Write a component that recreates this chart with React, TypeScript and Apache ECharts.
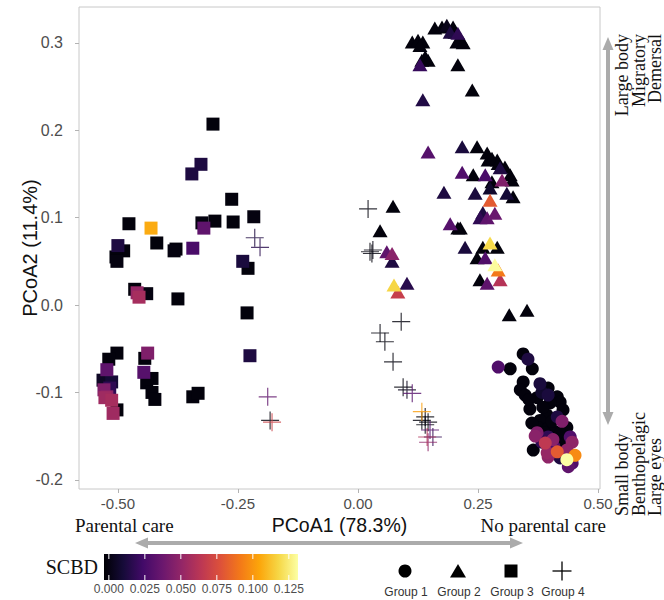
import React, { useEffect, useRef } from "react";
import * as echarts from "echarts";

const xTicks = [-0.5, -0.25, 0, 0.25, 0.5];
const yTicks = [-0.2, -0.1, 0.0, 0.1, 0.2, 0.3];
const scbdTicks = [0, 0.025, 0.05, 0.075, 0.1, 0.125];
const scbdMax = 0.128;
const groupNames = ["Group 1", "Group 2", "Group 3", "Group 4"];
const inferno = ["#000004", "#160b39", "#420a68", "#6a176e", "#932667", "#bc3754", "#dd513a", "#f37819", "#fca50a", "#f6d746", "#fcffa4"];

// [PCoA1, PCoA2, SCBD]
const group1 = [
  [0.344, -0.056, 0.002], [0.354, -0.062, 0.015], [0.292, -0.071, 0.03], [0.317, -0.073, 0.002],
  [0.363, -0.073, 0.002], [0.344, -0.088, 0.002], [0.379, -0.09, 0.014], [0.338, -0.097, 0.002],
  [0.348, -0.103, 0.002], [0.396, -0.095, 0.002], [0.383, -0.1, 0.01], [0.396, -0.103, 0.014],
  [0.415, -0.105, 0.002], [0.373, -0.106, 0.002], [0.421, -0.111, 0.002], [0.4, -0.112, 0.002],
  [0.427, -0.12, 0.002], [0.358, -0.119, 0.002], [0.394, -0.126, 0.002], [0.415, -0.128, 0.015],
  [0.379, -0.132, 0.002], [0.425, -0.133, 0.045], [0.435, -0.14, 0.002], [0.375, -0.14, 0.002],
  [0.396, -0.141, 0.002], [0.41, -0.145, 0.002], [0.373, -0.146, 0.045], [0.442, -0.151, 0.03],
  [0.369, -0.15, 0.048], [0.396, -0.151, 0.02], [0.406, -0.154, 0.048], [0.383, -0.157, 0.02],
  [0.446, -0.157, 0.05], [0.39, -0.158, 0.065], [0.365, -0.166, 0.002], [0.394, -0.169, 0.052],
  [0.415, -0.168, 0.08], [0.435, -0.166, 0.05], [0.452, -0.172, 0.095], [0.446, -0.181, 0.03],
  [0.421, -0.175, 0.015], [0.396, -0.174, 0.05], [0.438, -0.185, 0.035], [0.435, -0.177, 0.128],
  [0.385, -0.117, 0.002], [0.404, -0.133, 0.002], [0.362, -0.135, 0.002], [0.388, -0.146, 0.002],
  [0.421, -0.147, 0.002], [0.408, -0.162, 0.03], [0.429, -0.159, 0.002], [0.356, -0.108, 0.002],
];

const group2 = [
  [0.16, 0.317, 0.002], [0.175, 0.318, 0.002], [0.185, 0.32, 0.005], [0.198, 0.318, 0.002],
  [0.202, 0.312, 0.002], [0.192, 0.312, 0.015], [0.208, 0.311, 0.02], [0.213, 0.305, 0.002],
  [0.206, 0.301, 0.002], [0.219, 0.3, 0.002], [0.113, 0.301, 0.002], [0.125, 0.303, 0.002],
  [0.135, 0.301, 0.002], [0.129, 0.297, 0.002], [0.14, 0.284, 0.002], [0.133, 0.28, 0.002],
  [0.146, 0.28, 0.002], [0.129, 0.275, 0.022], [0.208, 0.275, 0.002], [0.238, 0.246, 0.002],
  [0.135, 0.235, 0.016], [0.146, 0.175, 0.032], [0.217, 0.181, 0.014], [0.248, 0.181, 0.002],
  [0.269, 0.174, 0.002], [0.271, 0.166, 0.002], [0.29, 0.166, 0.002], [0.217, 0.152, 0.03],
  [0.296, 0.157, 0.015], [0.317, 0.149, 0.002], [0.24, 0.149, 0.002], [0.265, 0.149, 0.028],
  [0.279, 0.168, 0.002], [0.292, 0.162, 0.002], [0.306, 0.158, 0.002], [0.3, 0.143, 0.045],
  [0.321, 0.143, 0.002], [0.279, 0.141, 0.002], [0.244, 0.128, 0.014], [0.275, 0.134, 0.01],
  [0.31, 0.128, 0.012], [0.323, 0.124, 0.002], [0.275, 0.12, 0.08], [0.26, 0.106, 0.015],
  [0.285, 0.105, 0.038], [0.254, 0.1, 0.02], [0.269, 0.1, 0.035], [0.213, 0.088, 0.002],
  [0.179, 0.129, 0.015], [0.073, 0.113, 0.002], [0.046, 0.085, 0.002], [0.192, 0.093, 0.032],
  [0.208, 0.088, 0.002], [0.223, 0.066, 0.014], [0.06, 0.061, 0.035], [0.071, 0.059, 0.048],
  [0.071, 0.05, 0.015], [0.075, 0.023, 0.115], [0.083, 0.015, 0.068], [0.102, 0.025, 0.018],
  [0.275, 0.071, 0.116], [0.29, 0.066, 0.002], [0.26, 0.066, 0.002], [0.248, 0.054, 0.002],
  [0.265, 0.054, 0.03], [0.285, 0.046, 0.127], [0.292, 0.04, 0.09], [0.296, 0.029, 0.062],
  [0.269, 0.025, 0.035], [0.254, 0.029, 0.002], [0.315, -0.011, 0.002], [0.352, -0.006, 0.002],
];

const group3 = [
  [-0.302, 0.207, 0.002], [-0.327, 0.161, 0.015], [-0.346, 0.15, 0.015], [-0.263, 0.121, 0.002],
  [-0.217, 0.101, 0.003], [-0.298, 0.096, 0.002], [-0.26, 0.095, 0.002], [-0.325, 0.094, 0.003],
  [-0.321, 0.088, 0.035], [-0.477, 0.093, 0.002], [-0.431, 0.088, 0.104], [-0.419, 0.071, 0.002],
  [-0.379, 0.064, 0.002], [-0.383, 0.062, 0.003], [-0.344, 0.065, 0.028], [-0.5, 0.068, 0.015],
  [-0.488, 0.062, 0.002], [-0.504, 0.055, 0.002], [-0.502, 0.05, 0.003], [-0.24, 0.05, 0.014],
  [-0.229, 0.042, 0.002], [-0.465, 0.018, 0.002], [-0.44, 0.013, 0.003], [-0.46, 0.014, 0.052],
  [-0.456, 0.009, 0.057], [-0.375, 0.007, 0.002], [-0.231, -0.009, 0.002], [-0.502, -0.055, 0.002],
  [-0.519, -0.062, 0.002], [-0.523, -0.074, 0.035], [-0.513, -0.088, 0.012], [-0.531, -0.086, 0.008],
  [-0.517, -0.095, 0.02], [-0.529, -0.097, 0.045], [-0.527, -0.106, 0.055], [-0.523, -0.105, 0.05],
  [-0.513, -0.109, 0.057], [-0.502, -0.12, 0.002], [-0.51, -0.124, 0.055], [-0.438, -0.055, 0.045],
  [-0.444, -0.061, 0.002], [-0.446, -0.077, 0.032], [-0.429, -0.084, 0.002], [-0.44, -0.089, 0.002],
  [-0.429, -0.1, 0.002], [-0.423, -0.108, 0.002], [-0.344, -0.105, 0.002], [-0.333, -0.101, 0.002],
  [-0.225, -0.058, 0.015],
];

const group4 = [
  [-0.215, 0.077, 0.015], [-0.204, 0.066, 0.018], [-0.188, -0.105, 0.035], [-0.183, -0.132, 0.002],
  [-0.179, -0.134, 0.07], [0.021, 0.11, 0.002], [0.025, 0.061, 0.002], [0.029, 0.059, 0.002],
  [0.031, 0.063, 0.003], [0.09, -0.019, 0.002], [0.046, -0.032, 0.002], [0.056, -0.042, 0.002],
  [0.073, -0.065, 0.002], [0.094, -0.094, 0.002], [0.102, -0.097, 0.005], [0.113, -0.101, 0.032],
  [0.133, -0.122, 0.1], [0.14, -0.128, 0.002], [0.133, -0.132, 0.002], [0.146, -0.134, 0.002],
  [0.14, -0.137, 0.002], [0.15, -0.143, 0.03], [0.156, -0.151, 0.02], [0.144, -0.151, 0.06],
  [0.146, -0.157, 0.05],
];

const SANS = "Liberation Sans";
const SERIF = "Liberation Serif";
const ARROW = "#ababab";
const PLUS = "path://M0,9.35 H20 V10.65 H0 Z M9.35,0 H10.65 V20 H9.35 Z";

const byScbd = (arr: number[][]) => [...arr].sort((a, b) => a[2] - b[2]);

function hArrow(x0: number, x1: number, y: number) {
  const hl = 13, hw = 5.5;
  return [
    { type: "line", shape: { x1: x0 + hl - 1, y1: y, x2: x1 - hl + 1, y2: y }, style: { stroke: ARROW, lineWidth: 4 }, silent: true },
    { type: "polygon", shape: { points: [[x0, y], [x0 + hl, y - hw], [x0 + hl, y + hw]] }, style: { fill: ARROW }, silent: true },
    { type: "polygon", shape: { points: [[x1, y], [x1 - hl, y - hw], [x1 - hl, y + hw]] }, style: { fill: ARROW }, silent: true },
  ];
}
function vArrow(x: number, y0: number, y1: number) {
  const hl = 13, hw = 5.5;
  return [
    { type: "line", shape: { x1: x, y1: y0 + hl - 1, x2: x, y2: y1 - hl + 1 }, style: { stroke: ARROW, lineWidth: 4 }, silent: true },
    { type: "polygon", shape: { points: [[x, y0], [x - hw, y0 + hl], [x + hw, y0 + hl]] }, style: { fill: ARROW }, silent: true },
    { type: "polygon", shape: { points: [[x, y1], [x - hw, y1 - hl], [x + hw, y1 - hl]] }, style: { fill: ARROW }, silent: true },
  ];
}

export default function App() {
  const ref = useRef<HTMLDivElement>(null);
  useEffect(() => {
    if (!ref.current) return;
    const chart = echarts.init(ref.current, undefined, { renderer: "svg" });

    const barX = 104, barY = 554, barW = 194, barH = 26;
    const halfBin = barW / 40;
    const barPos = (v: number) => barX + halfBin + (v / scbdMax) * (barW - 2 * halfBin);
    const stops = inferno.map((c, i) => ({ offset: i / (inferno.length - 1), color: c }));

    const colorbar: any[] = [
      { type: "rect", shape: { x: barX, y: barY, width: barW, height: barH }, style: { fill: { type: "linear", x: 0, y: 0, x2: 1, y2: 0, colorStops: stops } }, silent: true },
    ];
    scbdTicks.forEach((v) => {
      const px = barPos(v);
      colorbar.push({ type: "line", shape: { x1: px, y1: barY, x2: px, y2: barY + 5 }, style: { stroke: "#ffffff", lineWidth: 1 }, silent: true });
      colorbar.push({ type: "line", shape: { x1: px, y1: barY + barH - 5, x2: px, y2: barY + barH }, style: { stroke: "#ffffff", lineWidth: 1 }, silent: true });
      colorbar.push({ type: "text", x: px, y: 589, style: { text: v.toFixed(3), fontFamily: SANS, fontSize: 12, fill: "#4d4d4d", align: "center", verticalAlign: "middle" }, silent: true });
    });

    const legX = [405, 458, 511, 562];
    const legY = 571;
    const legend: any[] = [
      { type: "circle", shape: { cx: legX[0], cy: legY, r: 6.5 }, style: { fill: "#000" }, silent: true },
      { type: "polygon", shape: { points: [[legX[1] - 8, legY + 6.5], [legX[1], legY - 7], [legX[1] + 8, legY + 6.5]] }, style: { fill: "#000" }, silent: true },
      { type: "rect", shape: { x: legX[2] - 6.5, y: legY - 6.5, width: 13, height: 13 }, style: { fill: "#000" }, silent: true },
      { type: "line", shape: { x1: legX[3] - 9.5, y1: legY, x2: legX[3] + 9.5, y2: legY }, style: { stroke: "#000", lineWidth: 1.3 }, silent: true },
      { type: "line", shape: { x1: legX[3], y1: legY - 9.5, x2: legX[3], y2: legY + 9.5 }, style: { stroke: "#000", lineWidth: 1.3 }, silent: true },
    ];
    groupNames.forEach((g, i) => {
      legend.push({ type: "text", x: legX[i] + 1, y: 592, style: { text: g, fontFamily: SANS, fontSize: 12, fill: "#333333", align: "center", verticalAlign: "middle" }, silent: true });
    });

    const texts: any[] = [
      { type: "text", x: 339.5, y: 525, style: { text: "PCoA1 (78.3%)", fontFamily: SANS, fontSize: 19.5, fill: "#111", align: "center", verticalAlign: "middle" }, silent: true },
      { type: "text", x: 30, y: 248, rotation: Math.PI / 2, style: { text: "PCoA2 (11.4%)", fontFamily: SANS, fontSize: 20, fill: "#111", align: "center", verticalAlign: "middle" }, silent: true },
      { type: "text", x: 75, y: 525, style: { text: "Parental care", fontFamily: SERIF, fontSize: 19, fill: "#111", align: "left", verticalAlign: "middle" }, silent: true },
      { type: "text", x: 606, y: 525, style: { text: "No parental care", fontFamily: SERIF, fontSize: 19, fill: "#111", align: "right", verticalAlign: "middle" }, silent: true },
      { type: "text", x: 614, y: 34, rotation: Math.PI / 2, style: { text: "Large body\nMigratory\nDemersal", fontFamily: SERIF, fontSize: 18, lineHeight: 16.5, fill: "#111", align: "right", verticalAlign: "top" }, silent: true },
      { type: "text", x: 614, y: 516, rotation: Math.PI / 2, style: { text: "Small body\nBenthopelagic\nLarge eyes", fontFamily: SERIF, fontSize: 18, lineHeight: 16.5, fill: "#111", align: "left", verticalAlign: "top" }, silent: true },
      { type: "text", x: 98, y: 567, style: { text: "SCBD", fontFamily: SERIF, fontSize: 20, fill: "#111", align: "right", verticalAlign: "middle" }, silent: true },
    ];

    const option: any = {
      animation: false,
      backgroundColor: "#ffffff",
      grid: { left: 79, right: 64, top: 7, bottom: 111, show: true, borderColor: "#c8c8c8", borderWidth: 1, backgroundColor: "transparent" },
      xAxis: {
        type: "value", min: -0.581, max: 0.504,
        axisLine: { show: false, onZero: false },
        splitLine: { show: false },
        axisTick: { show: true, customValues: xTicks, length: 4, lineStyle: { color: "#b3b3b3" } },
        axisLabel: { customValues: xTicks, formatter: (v: number) => v.toFixed(2), color: "#4d4d4d", fontSize: 15, fontFamily: SANS, margin: 7 },
      },
      yAxis: {
        type: "value", min: -0.2105, max: 0.341,
        axisLine: { show: false, onZero: false },
        splitLine: { show: false },
        axisTick: { show: true, customValues: yTicks, length: 4, lineStyle: { color: "#b3b3b3" } },
        axisLabel: { customValues: yTicks, formatter: (v: number) => v.toFixed(1), color: "#4d4d4d", fontSize: 16, fontFamily: SANS, margin: 16 },
      },
      visualMap: {
        type: "continuous", show: false, min: 0, max: scbdMax, dimension: 2,
        seriesIndex: [0, 1, 2, 3], inRange: { color: inferno },
      },
      series: [
        { name: groupNames[2], type: "scatter", symbol: "rect", symbolSize: 13, data: byScbd(group3), silent: true, itemStyle: { opacity: 1 } },
        { name: groupNames[3], type: "scatter", symbol: PLUS, symbolSize: 18, data: byScbd(group4), silent: true, itemStyle: { opacity: 0.8 } },
        { name: groupNames[1], type: "scatter", symbol: "triangle", symbolSize: [15, 13], data: byScbd(group2), silent: true, itemStyle: { opacity: 1 } },
        { name: groupNames[0], type: "scatter", symbol: "circle", symbolSize: 13, data: byScbd(group1), silent: true, itemStyle: { opacity: 1 } },
      ],
      graphic: [
        ...texts,
        ...hArrow(135, 523, 543),
        ...vArrow(608, 37, 425),
        ...colorbar,
        ...legend,
      ],
    };
    chart.setOption(option);
    return () => chart.dispose();
  }, []);
  return <div ref={ref} style={{ position: "fixed", left: 0, top: 0, width: 664, height: 600, background: "#fff" }} />;
}
